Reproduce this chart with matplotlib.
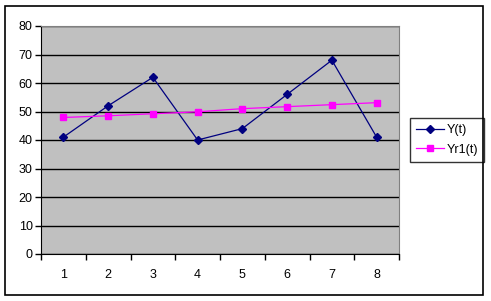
import matplotlib
matplotlib.use("Agg")
import matplotlib.pyplot as plt
from matplotlib.patches import Rectangle
from matplotlib.ticker import FixedLocator, NullFormatter

plt.rcParams['font.family'] = ['Liberation Sans', 'DejaVu Sans']

# data
t = [1, 2, 3, 4, 5, 6, 7, 8]
y_t = [41, 52, 62, 40, 44, 56, 68, 41]
yr1_t = [47.9, 48.5, 49.2, 49.9, 51.0, 51.7, 52.4, 53.1]
y_ticks = [0, 10, 20, 30, 40, 50, 60, 70, 80]

fig = plt.figure(figsize=(4.91, 3.01), dpi=100)
fig.patch.set_facecolor('white')
# outer chart border
fig.add_artist(Rectangle((5 / 491, 6 / 301), 478 / 491, 289 / 301,
                         transform=fig.transFigure, fill=False,
                         edgecolor='black', linewidth=1.2))

ax = fig.add_axes([41 / 491, 47 / 301, 358 / 491, 228 / 301])
ax.set_facecolor('#C0C0C0')

ax.plot(t, y_t, color='#000080', linewidth=0.9, marker='D', markersize=4,
        label='Y(t)')
ax.plot(t, yr1_t, color='#FF00FF', linewidth=0.9, marker='s', markersize=5,
        label='Yr1(t)')

ax.set_xlim(0.5, 8.5)
ax.set_ylim(0, 80)
ax.set_yticks(y_ticks)
ax.yaxis.grid(True, color='black', linewidth=1)
ax.set_axisbelow(True)

# category ticks between points, labels under points
ax.xaxis.set_major_locator(FixedLocator([i + 0.5 for i in range(0, 9)]))
ax.xaxis.set_major_formatter(NullFormatter())
ax.xaxis.set_minor_locator(FixedLocator(t))
ax.set_xticklabels([str(v) for v in t], minor=True)
ax.tick_params(axis='x', which='minor', length=0, pad=11, labelsize=9)
ax.tick_params(axis='x', which='major', length=4, direction='out', width=1)
ax.tick_params(axis='y', length=4, direction='out', width=1, labelsize=9,
               pad=2)

ax.spines['left'].set_color('black')
ax.spines['bottom'].set_color('black')
ax.spines['top'].set_color('#808080')
ax.spines['right'].set_color('#808080')

leg = ax.legend(loc='upper left', bbox_to_anchor=(410 / 491, 1 - 118 / 301),
                bbox_transform=fig.transFigure, frameon=True, fancybox=False,
                edgecolor='black', fontsize=9, handlelength=2.2,
                handletextpad=0.2, borderpad=0.5, labelspacing=0.6,
                borderaxespad=0)
leg.get_frame().set_linewidth(1)

fig.savefig("out.png", dpi=100)
